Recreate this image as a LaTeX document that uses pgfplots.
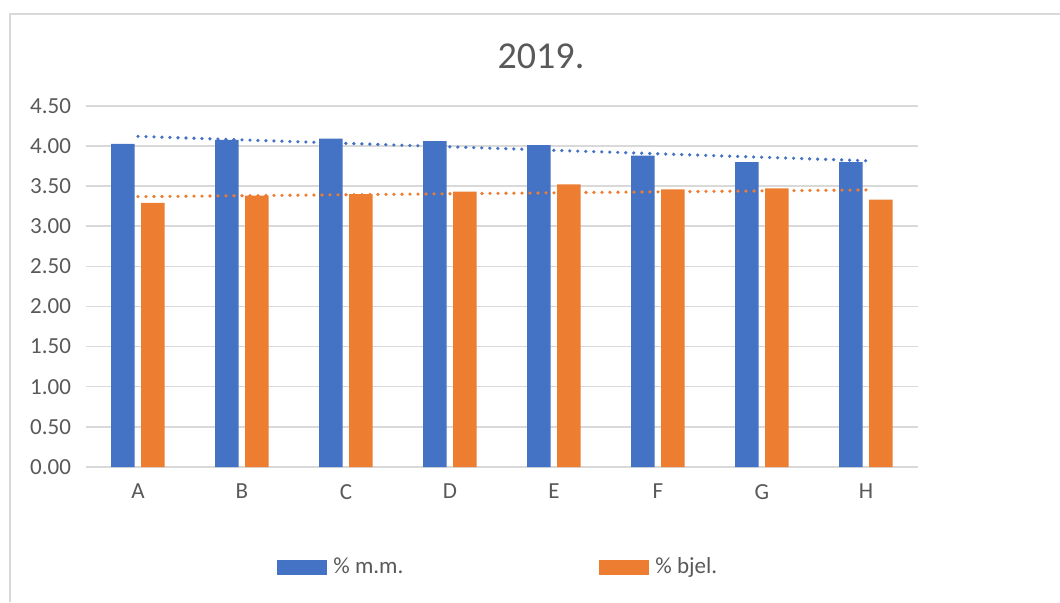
\documentclass[border=0pt]{standalone}
\usepackage{fontspec}
\setmainfont{Carlito}
\usepackage{pgfplots}
\pgfplotsset{compat=1.18}
\definecolor{xlblue}{HTML}{4472C4}
\definecolor{xlorange}{HTML}{ED7D31}
\definecolor{gridgray}{HTML}{D9D9D9}
\definecolor{textgray}{HTML}{595959}
\begin{document}
\begin{tikzpicture}
\useasboundingbox (0,0) rectangle (530pt,301pt);
\draw[gridgray, line width=1pt] (5pt,0) -- (5pt,294pt) -- (530pt,294pt);
\begin{axis}[
    at={(43pt,67.5pt)}, anchor=south west,
    scale only axis, width=416pt, height=180.6pt,
    xmin=-0.5, xmax=7.5, ymin=0, ymax=4.5,
    xtick={0,...,7},
    xticklabels={A,B,C,D,E,F,G,H},
    ytick={0,0.5,...,4.5},
    yticklabel style={xshift=-4pt, /pgf/number format/fixed,
        /pgf/number format/fixed zerofill, /pgf/number format/precision=2},
    /pgf/number format/assume math mode=true,
    tick label style={font=\fontsize{11.5}{13}\selectfont, text=textgray},
    xticklabel style={yshift=-5pt},
    major tick length=0pt,
    axis x line*=bottom, axis y line*=left,
    x axis line style={gridgray, line width=0.75pt, -},
    y axis line style={draw=none},
    ymajorgrids, grid style={gridgray, line width=0.75pt},
    legend columns=2,
    legend style={at={(0.2296,-0.277)}, anchor=west, draw=none, inner sep=0pt,
        font=\fontsize{11.5}{13}\selectfont, text=textgray,
        /tikz/column 1/.style={column sep=1pt},
        /tikz/column 2/.style={column sep=96pt},
        /tikz/column 3/.style={column sep=1pt}},
    legend image code/.code={\fill[#1] (0pt,-3.75pt) rectangle (25pt,3.75pt);},
]
\addplot[ybar, bar width=11.75pt, bar shift=-7.5pt, fill=xlblue, draw=none]
    coordinates {(0,4.025) (1,4.075) (2,4.09) (3,4.06) (4,4.01) (5,3.88) (6,3.80) (7,3.80)};
\addlegendentry{\% m.m.}
\addplot[ybar, bar width=11.75pt, bar shift=7.5pt, fill=xlorange, draw=none]
    coordinates {(0,3.29) (1,3.38) (2,3.40) (3,3.43) (4,3.52) (5,3.46) (6,3.47) (7,3.33)};
\addlegendentry{\% bjel.}
% linear trend lines
\addplot[forget plot, sharp plot, xlblue, line width=1.8pt, line cap=round,
    dash pattern=on 0pt off 4pt] coordinates {(0,4.119) (7,3.816)};
\addplot[forget plot, sharp plot, xlorange, line width=1.8pt, line cap=round,
    dash pattern=on 0pt off 4pt] coordinates {(0,3.368) (7,3.452)};
\end{axis}
\node[anchor=base, text=textgray, font=\fontsize{19}{22}\selectfont] at (270.5pt,267pt) {2019.};
\end{tikzpicture}
\end{document}
